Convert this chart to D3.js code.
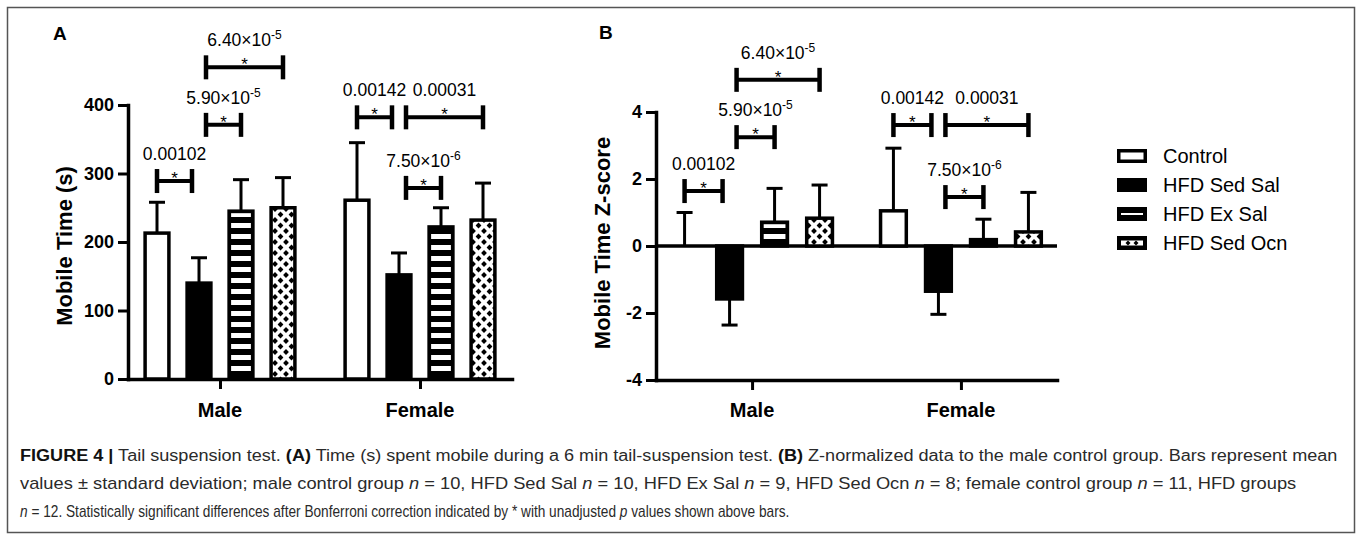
<!DOCTYPE html>
<html>
<head>
<meta charset="utf-8">
<script src="https://cdn.jsdelivr.net/npm/d3@7"></script>
<style>
  body { margin: 0; background: #fff; }
  svg { display: block; font-family: "Liberation Sans", Arial, sans-serif; }
</style>
</head>
<body>
<script>
// groups + series
var groups = ["Male", "Female"];
var series = ["Control", "HFD Sed Sal", "HFD Ex Sal", "HFD Sed Ocn"];

// panel A: mobile time (s), mean and SD per group
var timeMale = [213, 140, 245, 250];
var timeMaleSD = [45, 37, 46, 44];
var timeFemale = [261, 152, 222, 232];
var timeFemaleSD = [84, 32, 28, 54];

// panel B: z-scores
var zMale = [0, -1.58, 0.71, 0.83];
var zMaleSD = [1.0, 0.78, 1.01, 0.99];
var zFemale = [1.05, -1.35, 0.19, 0.42];
var zFemaleSD = [1.87, 0.69, 0.61, 1.18];

var ticksA = [0, 100, 200, 300, 400];
var ticksB = [-4, -2, 0, 2, 4];

// significance brackets (group, from bar, to bar, p text, exponent, height A, height B)
var pGroup = [0, 0, 0, 1, 1, 1];
var pFrom = [0, 1, 1, 0, 1, 1];
var pTo = [1, 2, 3, 1, 3, 2];
var pText = ["0.00102", "5.90×10", "6.40×10", "0.00142", "0.00031", "7.50×10"];
var pExp = ["", "-5", "-5", "", "", "-6"];
var levelA = [289, 371, 455, 382, 382, 279];
var levelB = [1.64, 3.25, 4.96, 3.61, 3.61, 1.46];

var svg = d3.select("body").append("svg")
  .attr("width", 1360)
  .attr("height", 540);

// frame round the whole figure
svg.append("rect")
  .attr("x", 7.5).attr("y", 7.5)
  .attr("width", 1347).attr("height", 525)
  .attr("fill", "none")
  .attr("stroke", "#555")
  .attr("stroke-width", 1.5);

// fill patterns
var defs = svg.append("defs");
var stripes = defs.append("pattern")
  .attr("id", "stripes")
  .attr("patternUnits", "userSpaceOnUse")
  .attr("width", 10).attr("height", 11);
stripes.append("rect").attr("width", 10).attr("height", 11).attr("fill", "#000");
stripes.append("rect").attr("y", 3).attr("width", 10).attr("height", 5).attr("fill", "#fff");

var dots = defs.append("pattern")
  .attr("id", "dots")
  .attr("patternUnits", "userSpaceOnUse")
  .attr("width", 11).attr("height", 11);
dots.append("rect").attr("width", 11).attr("height", 11).attr("fill", "#fff");
[[5.5, 5.5], [0, 0], [11, 0], [0, 11], [11, 11]].forEach(function(p) {
  var r = 2.9;
  dots.append("path")
    .attr("d", "M" + p[0] + "," + (p[1] - r) + "L" + (p[0] + r) + "," + p[1] +
               "L" + p[0] + "," + (p[1] + r) + "L" + (p[0] - r) + "," + p[1] + "Z")
    .attr("fill", "#000");
});

var STROKE = 3.5;

var panels = [
  { label: "A", lx: 53, ly: 40, means: [timeMale, timeFemale], sds: [timeMaleSD, timeFemaleSD],
    domain: [0, 400], ticks: ticksA, levels: levelA, title: "Mobile Time (s)",
    tx: 72, ty: 246, x0: 128, x1: 512, yBottom: 379, yTop: 105, spacing: 42 },
  { label: "B", lx: 599, ly: 39, means: [zMale, zFemale], sds: [zMaleSD, zFemaleSD],
    domain: [-4, 4], ticks: ticksB, levels: levelB, title: "Mobile Time Z-score",
    tx: 610, ty: 243, x0: 656, x1: 1057, yBottom: 380, yTop: 112, spacing: 45 }
];

panels.forEach(function(p) {
  var g = svg.append("g");

  var y = d3.scaleLinear().domain(p.domain).range([p.yBottom, p.yTop]);
  var xg = d3.scalePoint().domain(groups).range([p.x0, p.x1]).padding(0.46);
  var xs = d3.scaleBand().domain(series)
    .range([-2 * p.spacing, 2 * p.spacing])
    .paddingInner(0.35).paddingOuter(0.175);
  var bw = xs.bandwidth();

  function barCenter(gi, si) {
    return xg(groups[gi]) + xs(series[si]) + bw / 2;
  }

  // y axis
  var yAxis = g.append("g")
    .attr("transform", "translate(" + p.x0 + ",0)")
    .call(d3.axisLeft(y).tickValues(p.ticks).tickSize(10).tickSizeOuter(0).tickPadding(4)
      .tickFormat(function(d) { return String(d); }));
  // x axis (group ticks only)
  var xAxis = g.append("g")
    .attr("transform", "translate(0," + p.yBottom + ")")
    .call(d3.axisBottom(xg).tickSize(10).tickSizeOuter(0).tickFormat(""));

  [yAxis, xAxis].forEach(function(ax) {
    ax.select(".domain").attr("stroke-width", STROKE).attr("stroke-linecap", "square");
    ax.selectAll(".tick line").attr("stroke-width", 3);
  });
  yAxis.selectAll("text")
    .attr("font-family", "Liberation Sans, Arial, sans-serif")
    .attr("font-size", 18).attr("font-weight", "bold").attr("fill", "#000");

  g.selectAll(".glabel")
    .data(groups).enter().append("text")
    .attr("x", function(d) { return xg(d); })
    .attr("y", 417)
    .attr("text-anchor", "middle")
    .attr("font-size", 20).attr("font-weight", "bold")
    .text(function(d) { return d; });

  // zero line for the z-score panel
  if (p.domain[0] < 0) {
    g.append("line")
      .attr("x1", p.x0).attr("x2", p.x1)
      .attr("y1", y(0)).attr("y2", y(0))
      .attr("stroke", "#000").attr("stroke-width", STROKE);
  }

  // flatten into bar records
  var bars = [];
  groups.forEach(function(gr, gi) {
    series.forEach(function(s, si) {
      bars.push({ gi: gi, si: si, v: p.means[gi][si], sd: p.sds[gi][si] });
    });
  });

  // error bars (one-sided, away from zero)
  var eb = g.selectAll(".err").data(bars).enter().append("g");
  eb.append("line")
    .attr("x1", function(d) { return barCenter(d.gi, d.si); })
    .attr("x2", function(d) { return barCenter(d.gi, d.si); })
    .attr("y1", function(d) { return y(d.v); })
    .attr("y2", function(d) { return y(d.v >= 0 ? d.v + d.sd : d.v - d.sd); })
    .attr("stroke", "#000").attr("stroke-width", 3);
  eb.append("line")
    .attr("x1", function(d) { return barCenter(d.gi, d.si) - 8; })
    .attr("x2", function(d) { return barCenter(d.gi, d.si) + 8; })
    .attr("y1", function(d) { return y(d.v >= 0 ? d.v + d.sd : d.v - d.sd); })
    .attr("y2", function(d) { return y(d.v >= 0 ? d.v + d.sd : d.v - d.sd); })
    .attr("stroke", "#000").attr("stroke-width", 3);

  // bars
  var bx = function(d) { return xg(groups[d.gi]) + xs(series[d.si]) + STROKE / 2; };
  var by = function(d) { return Math.min(y(0), y(d.v)); };
  var bh = function(d) { return Math.abs(y(0) - y(d.v)); };
  var fills = ["#fff", "#000", "#000", "url(#dots)"];

  g.selectAll(".bar").data(bars).enter().append("rect")
    .attr("x", bx).attr("y", by)
    .attr("width", bw - STROKE).attr("height", bh)
    .attr("fill", function(d) { return fills[d.si]; })
    .attr("stroke", "#000").attr("stroke-width", STROKE);

  // striped inner panel for HFD Ex Sal
  g.selectAll(".stripe").data(bars.filter(function(d) { return d.si === 2; }))
    .enter().append("rect")
    .attr("x", function(d) { return bx(d) + 2; })
    .attr("y", function(d) { return by(d) + 2; })
    .attr("width", bw - STROKE - 4)
    .attr("height", function(d) { return Math.max(0, bh(d) - 4); })
    .attr("fill", "url(#stripes)");

  // significance brackets
  pText.forEach(function(t, i) {
    var gi = pGroup[i];
    var a = barCenter(gi, pFrom[i]);
    var b = barCenter(gi, pTo[i]);
    if (pFrom[i] === 1) a += 7;
    if (pTo[i] === 1) b -= 7;
    var yy = y(p.levels[i]);
    var br = g.append("g");
    br.append("line").attr("x1", a).attr("x2", b).attr("y1", yy).attr("y2", yy)
      .attr("stroke", "#000").attr("stroke-width", 4);
    [a, b].forEach(function(xx) {
      br.append("line").attr("x1", xx).attr("x2", xx).attr("y1", yy - 12).attr("y2", yy + 12)
        .attr("stroke", "#000").attr("stroke-width", 4.5);
    });
    br.append("text")
      .attr("x", (a + b) / 2).attr("y", yy + 3)
      .attr("text-anchor", "middle").attr("font-size", 17)
      .text("*");
    var lab = br.append("text")
      .attr("x", (a + b) / 2).attr("y", yy - 21)
      .attr("text-anchor", "middle").attr("font-size", 17.5)
      .text(t);
    if (pExp[i]) {
      lab.append("tspan").attr("dy", -7).attr("font-size", 12).text(pExp[i]);
    }
  });

  // panel letter and y title
  g.append("text")
    .attr("x", p.lx).attr("y", p.ly)
    .attr("font-size", 19).attr("font-weight", "bold")
    .text(p.label);
  g.append("text")
    .attr("transform", "translate(" + p.tx + "," + p.ty + ") rotate(-90)")
    .attr("text-anchor", "middle")
    .attr("font-size", 22).attr("font-weight", "bold")
    .text(p.title);
});

// legend
var legendY = [156, 185, 214, 243];
var leg = svg.append("g").attr("transform", "translate(1117,0)");
series.forEach(function(s, i) {
  var row = leg.append("g").attr("transform", "translate(0," + legendY[i] + ")");
  row.append("rect")
    .attr("x", 1.75).attr("y", -5.25)
    .attr("width", 26.5).attr("height", 10.5)
    .attr("fill", i === 0 ? "#fff" : "#000")
    .attr("stroke", "#000").attr("stroke-width", STROKE);
  if (i === 2) {
    row.append("rect").attr("x", 4).attr("y", -1).attr("width", 22).attr("height", 2).attr("fill", "#fff");
  }
  if (i === 3) {
    row.append("rect").attr("x", 4).attr("y", -2.5).attr("width", 22).attr("height", 5).attr("fill", "#fff");
    [11, 19].forEach(function(cx) {
      row.append("path")
        .attr("d", "M" + cx + ",-2.5L" + (cx + 2.5) + ",0L" + cx + ",2.5L" + (cx - 2.5) + ",0Z")
        .attr("fill", "#000");
    });
  }
  row.append("text")
    .attr("x", 46).attr("y", 0).attr("dy", "0.35em")
    .attr("font-size", 20)
    .text(s);
});

// caption (each line fitted to the width it has in the figure)
var caption = [
  { w: 1318, parts: [["FIGURE 4 |", "b"], [" Tail suspension test. ", ""], ["(A)", "b"],
      [" Time (s) spent mobile during a 6 min tail-suspension test. ", ""], ["(B)", "b"],
      [" Z-normalized data to the male control group. Bars represent mean", ""]] },
  { w: 1277, parts: [["values ± standard deviation; male control group ", ""], ["n", "i"],
      [" = 10, HFD Sed Sal ", ""], ["n", "i"], [" = 10, HFD Ex Sal ", ""], ["n", "i"],
      [" = 9, HFD Sed Ocn ", ""], ["n", "i"], [" = 8; female control group ", ""], ["n", "i"],
      [" = 11, HFD groups", ""]] },
  { w: 770, parts: [["n", "i"], [" = 12. Statistically significant differences after Bonferroni correction indicated by * with unadjusted ", ""],
      ["p", "i"], [" values shown above bars.", ""]] }
];
caption.forEach(function(line, i) {
  var t = svg.append("text")
    .attr("x", 0).attr("y", 0)
    .attr("font-size", 16).attr("fill", "#2a2a2a");
  line.parts.forEach(function(pt) {
    var ts = t.append("tspan").text(pt[0]);
    if (pt[1] === "b") ts.attr("font-weight", "bold").attr("fill", "#111");
    if (pt[1] === "i") ts.attr("font-style", "italic");
  });
  var sx = line.w / t.node().getComputedTextLength();
  t.attr("transform", "translate(20," + (461 + i * 28) + ") scale(" + sx + ",1)");
});
</script>
</body>
</html>
